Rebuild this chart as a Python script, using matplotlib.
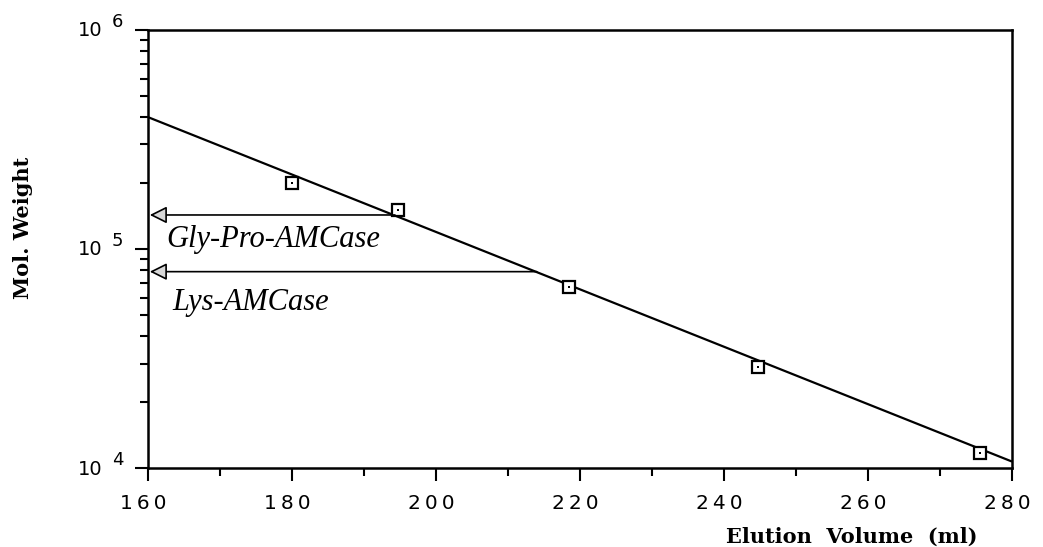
import matplotlib.pyplot as plt
from matplotlib.ticker import MultipleLocator, LogLocator, NullFormatter, FixedLocator
from matplotlib.transforms import ScaledTranslation

# calibration standards: elution volume (ml) vs molecular weight
volume = [180.0, 194.7, 218.5, 244.7, 275.5]
mol_weight = [2.0e5, 1.5e5, 6.73e4, 2.88e4, 1.17e4]

# fitted calibration line
fit_volume = [160, 280]
fit_weight = [4.0e5, 1.07e4]

# enzymes
enzymes = ["Gly-Pro-AMCase", "Lys-AMCase"]
enzyme_volume = [194.3, 214.0]
enzyme_weight = [1.43e5, 7.88e4]
# where each enzyme name sits (volume, baseline weight)
label_volume = [162.6, 163.4]
label_weight = [1.02e5, 5.26e4]

x_ticks = [160, 180, 200, 220, 240, 260, 280]
y_decades = [4, 5, 6]

plt.rcParams['font.family'] = ['DejaVu Sans']

fig = plt.figure(figsize=(10.43, 5.47), dpi=100)
ax = fig.add_axes([0.1419, 0.1444, 0.8284, 0.8008])

ax.plot(fit_volume, fit_weight, color='black', lw=1.6, solid_capstyle='butt')
ax.plot(volume, mol_weight, ls='none', marker='s', ms=8.5, mfc='white',
        mec='black', mew=1.6)
ax.plot(volume, mol_weight, ls='none', marker='s', ms=1.6, mfc='black',
        mec='black', mew=0)

for v, w in zip(enzyme_volume, enzyme_weight):
    ax.annotate('', xy=(160.25, w), xytext=(v, w),
                arrowprops=dict(arrowstyle='-|>,head_length=0.52,head_width=0.26',
                                mutation_scale=20, fc='#d8d8d8', ec='black',
                                lw=1.2, shrinkA=0, shrinkB=0))

for name, v, w in zip(enzymes, label_volume, label_weight):
    ax.text(v, w, name, fontsize=22, style='italic',
            family='Liberation Serif', va='baseline')

ax.set_xlim(160, 280)
ax.set_yscale('log')
ax.set_ylim(1e4, 1e6)

ax.xaxis.set_major_locator(FixedLocator(x_ticks))
ax.xaxis.set_minor_locator(MultipleLocator(10))
ax.set_xticklabels(['\u2009'.join(str(t)) for t in x_ticks], fontsize=14.5)

ax.yaxis.set_major_locator(FixedLocator([10.0 ** d for d in y_decades]))
ax.yaxis.set_minor_locator(LogLocator(base=10, subs=range(2, 10)))
ax.yaxis.set_major_formatter(NullFormatter())
ax.yaxis.set_minor_formatter(NullFormatter())

ax.tick_params(which='major', direction='out', length=9.5, width=1.5, pad=9,
               top=False, right=False)
ax.tick_params(which='minor', direction='out', length=5.5, width=1.5,
               top=False, right=False)
for s in ax.spines.values():
    s.set_linewidth(1.8)

# nudge the volume labels a little to the left of their ticks
# (after tick_params, which resets the label transforms)
shift = ScaledTranslation(-5 / 100, 0, fig.dpi_scale_trans)
for tick in ax.xaxis.get_major_ticks():
    tick.label1.set_transform(tick.label1.get_transform() + shift)

# decade labels drawn as "10" with a raised exponent
for d in y_decades:
    ax.annotate('10', xy=(0, 10.0 ** d), xycoords=ax.get_yaxis_transform(),
                xytext=(-46, -1), textcoords='offset pixels',
                ha='right', va='center', fontsize=14)
    ax.annotate(str(d), xy=(0, 10.0 ** d), xycoords=ax.get_yaxis_transform(),
                xytext=(-36, 8), textcoords='offset pixels',
                ha='left', va='center', fontsize=13)

fig.text(23 / 1043, 1 - 228 / 547, 'Mol. Weight', rotation=90, ha='center',
         va='center', family='DejaVu Serif', weight='bold', fontsize=15)
fig.text(978 / 1043, 1 - 537 / 547, 'Elution  Volume  (ml)', ha='right',
         va='center', family='DejaVu Serif', weight='bold', fontsize=15)

fig.savefig('out.png', dpi=100, facecolor='white')
